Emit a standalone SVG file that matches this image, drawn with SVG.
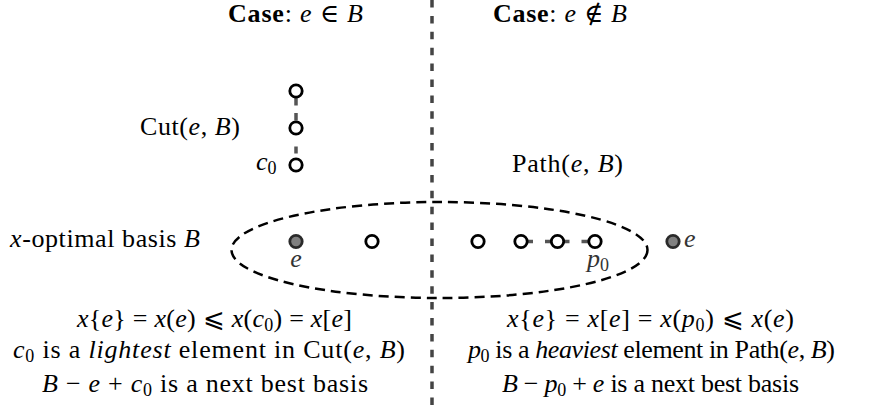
<svg xmlns="http://www.w3.org/2000/svg" width="876" height="408" viewBox="0 0 876 408">
<style>
.t { font-family: 'Liberation Serif', 'Times New Roman', 'DejaVu Serif', serif; font-size: 26px; fill: #000; }
.it { font-style: italic; }
.b { font-weight: bold; }
.sub { font-size: 18px; }
.lbl { fill: #333; }
.node { fill: #fff; stroke: #000; stroke-width: 2.8; }
.nodef { fill: #808080; stroke: #2a2a2a; stroke-width: 2.8; }
.conn { stroke: #555; stroke-width: 3.5; fill: none; }
.divider { stroke: #444; stroke-width: 3.5; stroke-dasharray: 7.5 8.4; }
.basis { fill: none; stroke: #000; stroke-width: 2.5; stroke-dasharray: 10 6; }
</style>

<line class="divider" x1="432" y1="0" x2="432" y2="408"/>
<ellipse id="basis" class="basis" cx="439.5" cy="250" rx="208" ry="48"/>

<g id="connectors">
  <line class="conn" x1="296" y1="91" x2="296" y2="128" stroke-dasharray="0 7 7.5 7.5 7.5 30"/>
  <line class="conn" x1="296" y1="128" x2="296" y2="165" stroke-dasharray="0 18.5 7 30"/>
  <line class="conn" x1="521" y1="241.5" x2="557.5" y2="241.5" stroke-dasharray="12 12"/>
  <line class="conn" x1="557.5" y1="241.5" x2="595" y2="241.5" stroke-dasharray="12 12"/>
</g>

<g id="cut-node-1"><circle class="node" cx="296" cy="91" r="6.2"/></g>
<g id="cut-node-2"><circle class="node" cx="296" cy="128" r="6.2"/></g>
<g id="cut-node-c0"><circle class="node" cx="296" cy="165" r="6.2"/></g>
<g id="node-e-left"><circle class="nodef" cx="296" cy="241.5" r="6.2"/></g>
<g id="node-b2"><circle class="node" cx="372" cy="241.5" r="6.2"/></g>
<g id="node-b3"><circle class="node" cx="478" cy="241.5" r="6.2"/></g>
<g id="path-node-1"><circle class="node" cx="521" cy="241.5" r="6.2"/></g>
<g id="path-node-2"><circle class="node" cx="557.5" cy="241.5" r="6.2"/></g>
<g id="path-node-p0"><circle class="node" cx="595" cy="241.5" r="6.2"/></g>
<g id="node-e-right"><circle class="nodef" cx="673" cy="241.5" r="6.2"/></g>

<g id="labels">
  <text class="t" x="228" y="22" textLength="135"><tspan class="b">Case</tspan>: <tspan class="it">e</tspan> ∈ <tspan class="it">B</tspan></text>
  <text class="t" x="493" y="22" textLength="134"><tspan class="b">Case</tspan>: <tspan class="it">e</tspan> ∉ <tspan class="it">B</tspan></text>
  <text class="t" x="140" y="135" textLength="100">Cut(<tspan class="it">e</tspan>, <tspan class="it">B</tspan>)</text>
  <text class="t" x="256" y="170"><tspan class="it">c</tspan><tspan class="sub" dy="4">0</tspan></text>
  <text class="t" x="512" y="172" textLength="111">Path(<tspan class="it">e</tspan>, <tspan class="it">B</tspan>)</text>
  <text class="t" x="10" y="247" textLength="190"><tspan class="it">x</tspan>-optimal basis <tspan class="it">B</tspan></text>
  <text class="t it lbl" x="296" y="267" text-anchor="middle">e</text>
  <text class="t lbl" x="587" y="267"><tspan class="it">p</tspan><tspan class="sub" dy="4">0</tspan></text>
  <text class="t it lbl" x="684" y="247">e</text>

  <text class="t" x="77" y="327" textLength="275"><tspan class="it">x</tspan>{<tspan class="it">e</tspan>} = <tspan class="it">x</tspan>(<tspan class="it">e</tspan>) ⩽ <tspan class="it">x</tspan>(<tspan class="it">c</tspan><tspan class="sub" dy="4">0</tspan><tspan dy="-4">) = </tspan><tspan class="it">x</tspan>[<tspan class="it">e</tspan>]</text>
  <text class="t" x="13" y="358" textLength="392"><tspan class="it">c</tspan><tspan class="sub" dy="4">0</tspan><tspan dy="-4"> is a </tspan><tspan class="it">lightest</tspan> element in Cut(<tspan class="it">e</tspan>, <tspan class="it">B</tspan>)</text>
  <text class="t" x="42" y="392" textLength="326"><tspan class="it">B</tspan> − <tspan class="it">e</tspan> + <tspan class="it">c</tspan><tspan class="sub" dy="4">0</tspan><tspan dy="-4"> is a next best basis</tspan></text>

  <text class="t" x="507" y="327" textLength="287"><tspan class="it">x</tspan>{<tspan class="it">e</tspan>} = <tspan class="it">x</tspan>[<tspan class="it">e</tspan>] = <tspan class="it">x</tspan>(<tspan class="it">p</tspan><tspan class="sub" dy="4">0</tspan><tspan dy="-4">) ⩽ </tspan><tspan class="it">x</tspan>(<tspan class="it">e</tspan>)</text>
  <text class="t" x="468" y="358" textLength="367"><tspan class="it">p</tspan><tspan class="sub" dy="4">0</tspan><tspan dy="-4"> is a </tspan><tspan class="it">heaviest</tspan> element in Path(<tspan class="it">e</tspan>, <tspan class="it">B</tspan>)</text>
  <text class="t" x="502" y="392" textLength="297"><tspan class="it">B</tspan> − <tspan class="it">p</tspan><tspan class="sub" dy="4">0</tspan><tspan dy="-4"> + </tspan><tspan class="it">e</tspan> is a next best basis</text>
</g>
</svg>
